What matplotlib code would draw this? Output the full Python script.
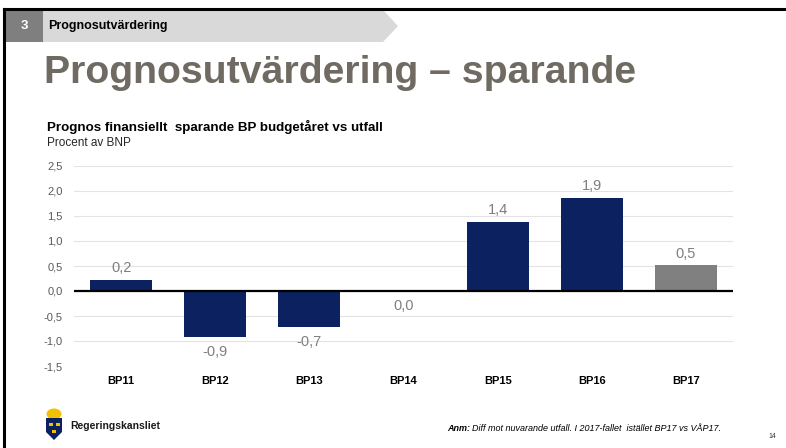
import matplotlib
matplotlib.use("Agg")
import matplotlib.pyplot as plt
from matplotlib.patches import Polygon, Rectangle, Ellipse

plt.rcParams["font.family"] = ["Liberation Sans", "DejaVu Sans"]

categories = ["BP11", "BP12", "BP13", "BP14", "BP15", "BP16", "BP17"]
values = [0.22, -0.92, -0.72, 0.0, 1.38, 1.85, 0.51]
labels = ["0,2", "-0,9", "-0,7", "0,0", "1,4", "1,9", "0,5"]
yticks = [-1.5, -1.0, -0.5, 0.0, 0.5, 1.0, 1.5, 2.0, 2.5]
ytick_labels = ["-1,5", "-1,0", "-0,5", "0,0", "0,5", "1,0", "1,5", "2,0", "2,5"]

NAVY = "#0b2160"
GREY_BAR = "#808080"
W, H = 786, 448

fig = plt.figure(figsize=(W / 100, H / 100), dpi=100)


def fx(x):
    return x / W


def fy(y):
    # pixel from top -> figure fraction
    return 1 - y / H


# slide frame
fig.add_artist(plt.Line2D([fx(4), fx(4)], [fy(9), fy(448)], color="black", lw=2.2))
fig.add_artist(plt.Line2D([fx(4), fx(786)], [fy(9), fy(9)], color="black", lw=2.2))

# section header
fig.add_artist(Rectangle((fx(5), fy(42)), fx(38), 32 / H, color="#7f7f7f", lw=0))
fig.add_artist(Polygon([(fx(43), fy(10)), (fx(383), fy(10)), (fx(398), fy(26)),
                        (fx(383), fy(42)), (fx(43), fy(42))],
                       closed=True, color="#d9d9d9", lw=0))
fig.text(fx(24), fy(26), "3", color="white", fontsize=9.5, fontweight="bold",
         ha="center", va="center")
fig.text(fx(48), fy(26), "Prognosutvärdering", color="black", fontsize=9,
         fontweight="bold", ha="left", va="center")

# title
fig.text(fx(44), fy(83), "Prognosutvärdering – sparande", color="#706b62",
         fontsize=28.3, fontweight="bold", ha="left", va="baseline")
fig.text(fx(47), fy(131), "Prognos finansiellt  sparande BP budgetåret vs utfall",
         color="black", fontsize=9.6, fontweight="bold", ha="left", va="baseline")
fig.text(fx(47), fy(146), "Procent av BNP", color="#262626", fontsize=8.5,
         ha="left", va="baseline")

# chart
ax = fig.add_axes([fx(74), fy(366), (733 - 74) / W, (366 - 166) / H])
x = range(len(categories))
colors = [NAVY] * (len(categories) - 1) + [GREY_BAR]
ax.bar(x, values, width=0.66, color=colors, zorder=2)
ax.axhline(0, color="black", lw=1.6, zorder=3)
ax.set_xlim(-0.5, len(categories) - 0.5)
ax.set_ylim(-1.5, 2.5)
ax.set_yticks(yticks)
ax.set_yticklabels(ytick_labels)
ax.set_xticks(list(x))
ax.set_xticklabels(categories, fontweight="bold", fontsize=8, color="black")
ax.tick_params(axis="y", length=0, pad=8, labelsize=8, labelcolor="#595959")
ax.tick_params(axis="x", length=0, pad=7)
ax.grid(axis="y", color="#e3e3e3", lw=0.8, zorder=0)
for s in ax.spines.values():
    s.set_visible(False)

for xi, v, lab in zip(x, values, labels):
    if v > 0:
        ax.annotate(lab, (xi, v), xytext=(0, 12), textcoords="offset pixels",
                    ha="center", va="center", fontsize=10.5, color="#7f7f7f")
    else:
        ax.annotate(lab, (xi, v), xytext=(0, -15), textcoords="offset pixels",
                    ha="center", va="center", fontsize=10.5, color="#7f7f7f")

# footer logo (simplified)
fig.add_artist(Ellipse((fx(54), fy(414)), 15 / W, 11 / H, color="#f2c200", lw=0))
fig.add_artist(Polygon([(fx(46), fy(418)), (fx(62), fy(418)), (fx(62), fy(432)),
                        (fx(54), fy(440)), (fx(46), fy(432))],
                       closed=True, color="#0b2160", lw=0))
for cx, cy in [(50.5, 424), (57.5, 424), (54, 431)]:
    fig.add_artist(Rectangle((fx(cx - 2), fy(cy + 1.5)), 4 / W, 3 / H,
                             color="#f2c200", lw=0))
fig.text(fx(70), fy(426), "Regeringskansliet", color="#1a1a1a", fontsize=7.5,
         fontweight="bold", ha="left", va="center")

anm = fig.text(fx(447), fy(431), "Anm: ", color="black", fontsize=6.5,
               fontweight="bold", fontstyle="italic", ha="left", va="baseline")
fig.canvas.draw()
anm_end = anm.get_window_extent().x1
fig.text(anm_end / W, fy(431),
         "Diff mot nuvarande utfall. I 2017-fallet  istället BP17 vs VÅP17.",
         color="black", fontsize=6.5, fontstyle="italic", ha="left", va="baseline")
fig.text(fx(772), fy(438), "14", color="#333333", fontsize=5, ha="center",
         va="baseline")

fig.savefig("out.png", dpi=100)
